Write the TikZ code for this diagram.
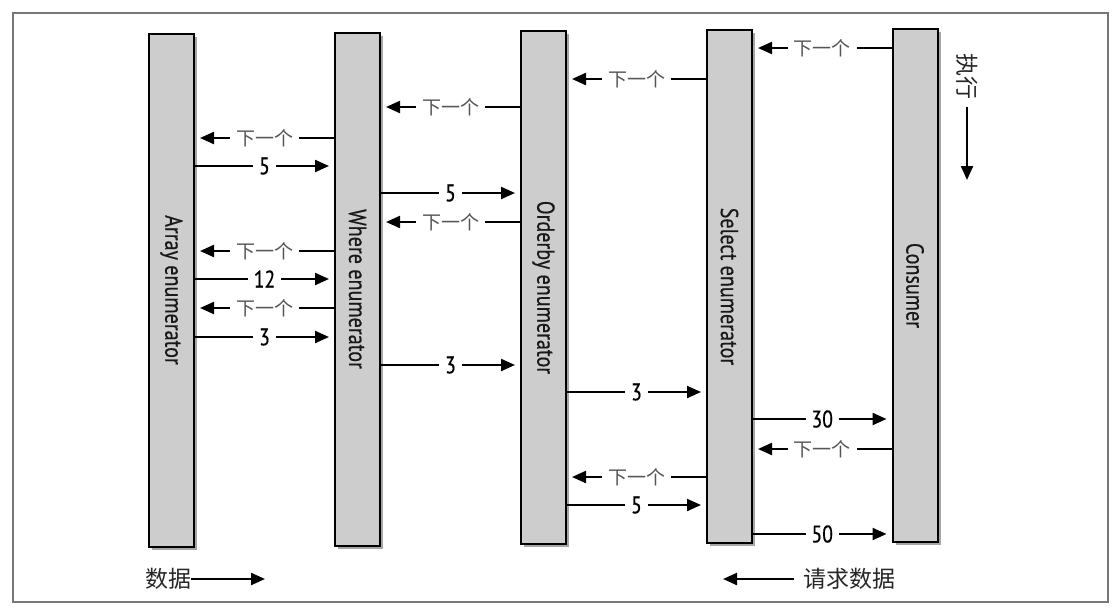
\documentclass[tikz,border=0pt]{standalone}
\usepackage{fontspec}
\usepackage{graphicx}
\setmainfont{PT Sans}[FakeStretch=0.85]
\newfontfamily\barfont{PT Sans}[FakeStretch=0.82, FakeBold=0.5]
\newfontfamily\cjk{Noto Sans CJK SC}
\usetikzlibrary{arrows.meta,shadows}
\definecolor{barfill}{HTML}{CDCDCD}
\definecolor{framec}{HTML}{777777}
\definecolor{cjkc}{HTML}{555555}
\tikzset{
  bar/.style={draw=black, line width=2pt, fill=barfill, minimum width=45pt,
    minimum height=513pt, inner sep=0pt, text=black!90,
    font=\barfont\fontsize{24.5}{26}\selectfont,
    drop shadow={shadow xshift=3pt, shadow yshift=-3pt, opacity=0.35, fill=black}},
  tip/.style={-{Triangle[length=14pt,width=12pt]}},
  flow/.style={line width=2.2pt, tip, shorten >=5pt},
  num/.style={midway, fill=white, inner xsep=6pt, inner ysep=1pt, font=\barfont\fontsize{24}{25}\selectfont},
  nxt/.style={midway, fill=white, inner xsep=6pt, inner ysep=1pt, text=cjkc, font=\cjk\fontsize{19}{20}\selectfont},
  side/.style={inner sep=0pt, font=\cjk\fontsize{23}{24}\selectfont, text=black!85},
}
\begin{document}
\begin{tikzpicture}[x=1pt,y=-1pt]
\useasboundingbox (0,0) rectangle (1112,614);
\draw[framec, line width=1.5pt] (13,13) rectangle (1108,602);

\node[bar] (arr) at (171.5,290) {\rotatebox{-90}{Array enumerator}};
\node[bar] (whe) at (357.5,289) {\rotatebox{-90}{Where enumerator}};
\node[bar] (ord) at (543.5,287.5) {\rotatebox{-90}{Orderby enumerator}};
\node[bar] (sel) at (729.5,286.5) {\rotatebox{-90}{Select enumerator}};
\node[bar] (con) at (915,285.5) {\rotatebox{-90}{Consumer}};

% Consumer <-> Select
\draw[flow] (con.west |- 0,48) -- (sel.east |- 0,48) node[nxt] {下一个};
\draw[flow] (sel.east |- 0,419) -- (con.west |- 0,419) node[num] {30};
\draw[flow] (con.west |- 0,449) -- (sel.east |- 0,449) node[nxt] {下一个};
\draw[flow] (sel.east |- 0,534) -- (con.west |- 0,534) node[num] {50};

% Select <-> Orderby
\draw[flow] (sel.west |- 0,79) -- (ord.east |- 0,79) node[nxt] {下一个};
\draw[flow] (ord.east |- 0,392) -- (sel.west |- 0,392) node[num] {3};
\draw[flow] (sel.west |- 0,477) -- (ord.east |- 0,477) node[nxt] {下一个};
\draw[flow] (ord.east |- 0,505) -- (sel.west |- 0,505) node[num] {5};

% Orderby <-> Where
\draw[flow] (ord.west |- 0,107) -- (whe.east |- 0,107) node[nxt] {下一个};
\draw[flow] (whe.east |- 0,193) -- (ord.west |- 0,193) node[num] {5};
\draw[flow] (ord.west |- 0,222) -- (whe.east |- 0,222) node[nxt] {下一个};
\draw[flow] (whe.east |- 0,365) -- (ord.west |- 0,365) node[num] {3};

% Where <-> Array
\draw[flow] (whe.west |- 0,138) -- (arr.east |- 0,138) node[nxt] {下一个};
\draw[flow] (arr.east |- 0,166) -- (whe.west |- 0,166) node[num] {5};
\draw[flow] (whe.west |- 0,251) -- (arr.east |- 0,251) node[nxt] {下一个};
\draw[flow] (arr.east |- 0,279) -- (whe.west |- 0,279) node[num] {12};
\draw[flow] (whe.west |- 0,308) -- (arr.east |- 0,308) node[nxt] {下一个};
\draw[flow] (arr.east |- 0,337) -- (whe.west |- 0,337) node[num] {3};

% execution direction
\node[side] (exe) at (967,76) {\rotatebox{-90}{执行}};
\coordinate (exeend) at (967,180);
\draw[line width=2.2pt, tip, shorten <=8pt] (exe.south) -- (exeend);

% bottom legends
\node[side] (dat) at (168,579) {数据};
\coordinate (datend) at (265,579);
\draw[line width=2.2pt, tip] (dat.east) -- (datend);

\node[side] (req) at (849,579) {请求数据};
\coordinate (reqend) at (723,579);
\draw[line width=2.2pt, tip, shorten <=9pt] (req.west) -- (reqend);
\end{tikzpicture}
\end{document}
